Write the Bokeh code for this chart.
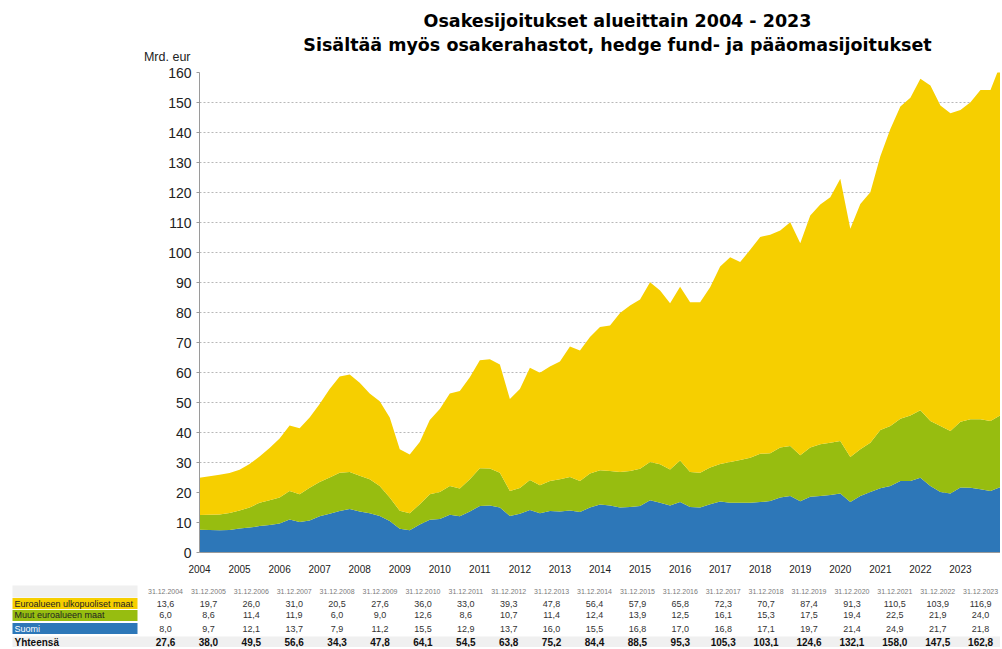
from bokeh.plotting import figure
from bokeh.models import ColumnDataSource, Range1d, FixedTicker
from bokeh.embed import file_html
from bokeh.resources import INLINE
from bokeh.core.properties import value

# ---------------- data ----------------
years = [str(y) for y in range(2004, 2024)]          # x tick labels (start of each year)
quarters = list(range(81))                            # 31.12.2003 ... 31.12.2023, quarterly

suomi = [7.6, 7.5, 7.4, 7.5, 8.0, 8.3, 8.8, 9.2, 9.7, 11.0,
         10.2, 10.7, 12.1, 12.9, 13.8, 14.5, 13.7, 13.1, 12.2, 10.5,
         7.9, 7.4, 9.3, 10.9, 11.2, 12.6, 12.1, 13.7, 15.5, 15.7,
         15.0, 12.2, 12.9, 14.2, 13.1, 13.8, 13.7, 14.0, 13.5, 15.0,
         16.0, 15.7, 15.0, 15.2, 15.5, 17.4, 16.6, 15.7, 16.8, 15.2,
         15.0, 16.1, 17.0, 16.6, 16.6, 16.6, 16.8, 17.2, 18.3, 18.8,
         17.1, 18.6, 18.8, 19.2, 19.7, 16.8, 18.8, 20.2, 21.4, 22.2,
         23.8, 23.8, 24.9, 22.2, 20.2, 19.7, 21.7, 21.6, 21.1, 20.5,
         21.8]
muut = [4.9, 5.1, 5.3, 5.7, 6.0, 6.7, 7.8, 8.2, 8.6, 9.5,
        9.2, 10.9, 11.4, 12.1, 12.8, 12.3, 11.9, 11.3, 10.0, 7.8,
        6.0, 5.7, 6.8, 8.5, 9.0, 9.6, 9.2, 10.7, 12.6, 12.3,
        11.6, 8.3, 8.6, 10.0, 9.3, 10.0, 10.7, 11.2, 10.3, 11.3,
        11.4, 11.5, 11.8, 12.0, 12.4, 12.8, 12.8, 12.0, 13.9, 11.6,
        11.6, 12.2, 12.5, 13.6, 14.2, 15.0, 16.1, 15.9, 16.7, 16.7,
        15.3, 16.4, 17.3, 17.4, 17.5, 15.0, 15.6, 16.4, 19.4, 20.0,
        20.8, 21.9, 22.5, 21.6, 22.0, 20.8, 21.9, 22.8, 23.3, 23.3,
        24.0]
ulko = [12.4, 12.8, 13.2, 13.3, 13.6, 14.5, 15.4, 17.4, 19.7, 21.8,
        22.0, 23.4, 26.0, 29.5, 32.1, 32.5, 31.0, 28.6, 28.2, 26.7,
        20.5, 19.6, 20.7, 24.8, 27.6, 30.8, 32.5, 34.0, 36.0, 36.4,
        36.1, 30.7, 33.0, 37.4, 37.5, 38.2, 39.3, 43.5, 43.5, 45.5,
        47.8, 48.5, 53.0, 55.1, 56.4, 59.9, 57.9, 55.4, 57.9, 56.6,
        56.8, 60.1, 65.8, 68.2, 66.0, 69.3, 72.3, 72.8, 72.3, 74.6,
        70.7, 77.3, 79.9, 81.8, 87.4, 76.1, 81.8, 83.5, 91.3, 99.0,
        104.1, 105.9, 110.5, 111.9, 106.8, 105.9, 103.9, 105.7, 109.8, 110.4,
        116.9]

table_dates = ["31.12.%d" % y for y in range(2004, 2024)]
table_ulko = [13.6, 19.7, 26.0, 31.0, 20.5, 27.6, 36.0, 33.0, 39.3, 47.8,
              56.4, 57.9, 65.8, 72.3, 70.7, 87.4, 91.3, 110.5, 103.9, 116.9]
table_muut = [6.0, 8.6, 11.4, 11.9, 6.0, 9.0, 12.6, 8.6, 10.7, 11.4,
              12.4, 13.9, 12.5, 16.1, 15.3, 17.5, 19.4, 22.5, 21.9, 24.0]
table_suomi = [8.0, 9.7, 12.1, 13.7, 7.9, 11.2, 15.5, 12.9, 13.7, 16.0,
               15.5, 16.8, 17.0, 16.8, 17.1, 19.7, 21.4, 24.9, 21.7, 21.8]
table_total = [27.6, 38.0, 49.5, 56.6, 34.3, 47.8, 64.1, 54.5, 63.8, 75.2,
               84.4, 88.5, 95.3, 105.3, 103.1, 124.6, 132.1, 158.0, 147.5, 162.8]
series_names = ["Euroalueen ulkopuoliset maat", "Muut euroalueen maat", "Suomi"]
total_name = "Yhteensä"
title_lines = ["Osakesijoitukset alueittain 2004 - 2023",
               "Sisältää myös osakerahastot, hedge fund- ja pääomasijoitukset"]
unit_label = "Mrd. eur"

YELLOW = "#F6CF00"
GREEN = "#97BD10"
BLUE = "#2D77B8"
FONT = "Liberation Sans"
W = 1000


def blank(y0, y1):
    """A figure whose frame fills the whole canvas; data units = page pixels."""
    f = figure(width=W, height=y1 - y0, x_range=Range1d(0, W), y_range=Range1d(y1, y0),
               min_border=0, min_border_left=0, min_border_right=0, min_border_top=0,
               min_border_bottom=0, x_axis_type=None, y_axis_type=None,
               output_backend="svg", toolbar_location=None)
    f.outline_line_color = None
    f.xgrid.visible = False
    f.ygrid.visible = False
    return f


# ---------------- heading ----------------
head = blank(0, 63)
head.text(x=[617, 617], y=[20, 44], text=title_lines, text_font=value("DejaVu Sans"),
          text_font_style="bold", text_font_size="17.5px", text_align="center",
          text_baseline="middle", text_color="#000000")
head.text(x=[190], y=[56], text=[unit_label], text_font=value(FONT), text_font_size="12.5px",
          text_align="right", text_baseline="middle", text_color="#222222")

# ---------------- chart ----------------
p = figure(width=W, height=517, x_range=Range1d(0, 80), y_range=Range1d(0, 160),
           min_border_left=199, min_border_right=0, min_border_top=9, min_border_bottom=28,
           output_backend="svg", toolbar_location=None)
p.outline_line_color = None
src = ColumnDataSource(dict(q=quarters, suomi=suomi, muut=muut, ulko=ulko))
p.varea_stack(stackers=["suomi", "muut", "ulko"], x="q", color=[BLUE, GREEN, YELLOW], source=src)

p.xgrid.visible = False
p.ygrid.ticker = FixedTicker(ticks=list(range(10, 161, 10)))
p.ygrid.grid_line_color = "#b8b8b8"
p.ygrid.grid_line_dash = "2 2"

p.yaxis.ticker = FixedTicker(ticks=list(range(0, 161, 10)))
p.yaxis.major_label_text_font = FONT
p.yaxis.major_label_text_font_size = "14px"
p.yaxis.major_label_text_color = "#222222"
p.yaxis.major_tick_in = 0
p.yaxis.major_tick_out = 3
p.yaxis.major_label_standoff = 5
p.yaxis.minor_tick_line_color = None
p.yaxis.axis_line_color = "#9a9a9a"
p.yaxis.major_tick_line_color = "#9a9a9a"

p.xaxis.ticker = FixedTicker(ticks=[4 * i for i in range(len(years))])
p.xaxis.major_label_overrides = {4 * i: years[i] for i in range(len(years))}
p.xaxis.major_label_text_font = FONT
p.xaxis.major_label_text_font_size = "10px"
p.xaxis.major_label_text_color = "#222222"
p.xaxis.major_tick_line_color = None
p.xaxis.minor_tick_line_color = None
p.xaxis.major_label_standoff = 6
p.xaxis.axis_line_color = "#9a9a9a"

# ---------------- table ----------------
tp = blank(580, 647)
row_center = [591, 603, 614.5, 628, 641.5]           # header, 3 series, total
cell_top = [597.5, 609.5, 622.5]
cell_bottom = [608.5, 620.5, 633.5]


def fmt(v):
    return ("%.1f" % v).replace(".", ",")


tp.quad(left=[12, 12], right=[137, W], top=[585, 636], bottom=[597, 647],
        fill_color="#f0f0f0", line_color=None)
tp.quad(left=[12] * 3, right=[137] * 3, top=cell_top, bottom=cell_bottom,
        fill_color=[YELLOW, GREEN, BLUE], line_color=None)
tp.text(x=[14] * 3, y=row_center[1:4], text=series_names,
        text_font=value(FONT), text_font_size="9px", text_baseline="middle", text_align="left",
        text_color=["#222222", "#222222", "#ffffff"])
tp.text(x=[14], y=[row_center[4]], text=[total_name], text_font=value(FONT), text_font_style="bold",
        text_font_size="10px", text_baseline="middle", text_align="left", text_color="#111111")

cols = [165 + 42.9 * k for k in range(len(table_dates))]
tp.text(x=cols, y=[row_center[0]] * len(cols), text=table_dates, text_font=value(FONT),
        text_font_size="7px", text_baseline="middle", text_align="center", text_color="#7a7a7a")
for r, vals in ((1, table_ulko), (2, table_muut), (3, table_suomi)):
    tp.text(x=cols, y=[row_center[r]] * len(cols), text=[fmt(v) for v in vals], text_font=value(FONT),
            text_font_size="9px", text_baseline="middle", text_align="center", text_color="#333333")
tp.text(x=cols, y=[row_center[4]] * len(cols), text=[fmt(v) for v in table_total], text_font=value(FONT),
        text_font_style="bold", text_font_size="10px", text_baseline="middle", text_align="center",
        text_color="#111111")

open("out.html", "w").write(file_html([head, p, tp], INLINE))
